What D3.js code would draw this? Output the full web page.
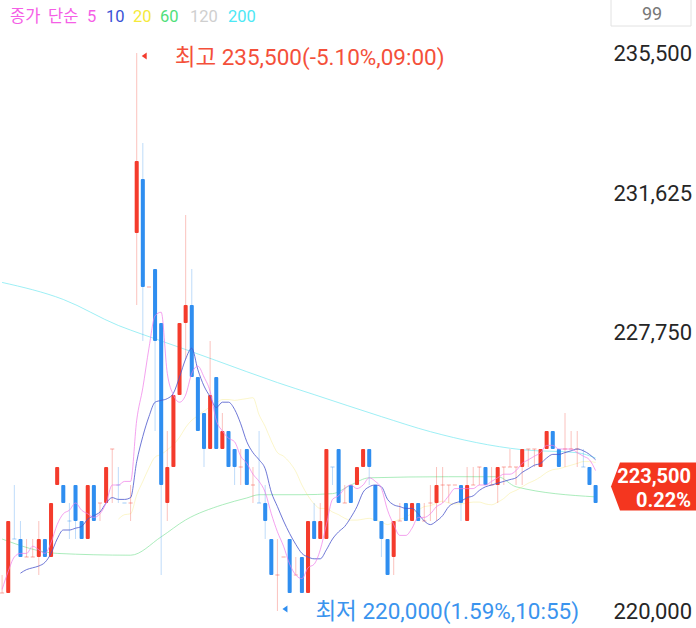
<!DOCTYPE html>
<html><head><meta charset="utf-8">
<script src="https://cdn.jsdelivr.net/npm/d3@7"></script>
<style>body{margin:0;background:#fff}svg{display:block}</style>
</head><body><svg id="c" width="696" height="628"></svg>
<script>
const opens = [220500,220500,222000,222000,221500,221500,221500,222000,221500,223500,223500,222500,223500,222500,222000,223500,223000,223000,224500,223500,223000,223000,230500,232000,229000,229500,228000,223000,224000,226000,228000,228500,226500,225500,224500,226500,224500,225000,224500,224000,224500,223500,223000,223000,222000,221000,221500,222000,221000,221500,220500,222500,222000,222000,224000,224500,223000,223500,223500,224000,224500,223500,222500,222000,221500,222500,223000,222500,223000,222500,223000,223000,223500,223500,223500,223500,222500,223500,224000,224000,223500,223500,224000,224000,224000,224000,224500,224500,224000,224500,225000,224500,224500,224500,224500,224000,224000,223500];
const highs = [221000,222500,223500,222500,222000,222000,222500,222000,223000,224000,223500,223000,223500,222500,223500,223500,223000,224000,224500,224000,223000,223500,235500,233000,229000,229500,228000,225000,226000,228000,231000,229500,226500,225500,227500,226500,225500,225000,224500,224500,224500,224000,225000,223500,222000,222000,221500,222000,221500,221500,222500,223000,223000,224500,224000,224500,223500,223500,224000,224500,224500,223500,222500,222000,222500,223000,223000,223000,223000,223000,223500,224000,224000,223500,223500,223500,224000,224000,224000,224000,224000,224000,224000,224500,224000,224500,224500,224500,224500,225000,225000,224500,225500,225000,225000,224500,224000,223500];
const lows = [220500,220500,222000,221500,221500,221500,221000,221500,221500,223500,223000,222000,222000,222000,222000,222500,222500,223000,223000,223000,223000,222500,228500,227500,229000,225000,221000,222500,224000,226000,227000,226500,225000,224000,224500,224500,224500,224000,223500,223500,223500,223000,223000,222000,221000,220000,221500,220500,221000,220500,220500,222000,222000,222000,223500,223000,223000,223000,223500,224000,223500,222500,221500,221000,221000,222500,222500,222500,222500,222500,222500,222500,223000,223000,223500,222500,222500,223500,223500,223500,223500,223000,223500,224000,223500,223500,224000,224000,224000,224500,224500,224000,224000,224500,224000,224000,223500,223000];
const closes = [220500,222500,222000,221500,221500,221500,222000,221500,223000,224000,223000,222500,222500,222000,223500,222500,223000,224000,224500,223500,223000,223000,232500,229000,229000,227500,223500,224000,226000,228000,228500,226500,225000,224500,226000,224500,225000,224000,224000,224000,223500,223500,223000,222500,221000,221000,221500,220500,221000,220500,222500,222000,222500,224500,224000,223000,223000,223000,224000,224500,224000,222500,222000,221000,222500,222500,222500,223000,222500,222500,223000,223500,223500,223500,223500,223000,223500,223500,224000,223500,223500,224000,224000,224000,224000,224500,224500,224500,224500,225000,224500,224000,224500,224500,224500,224000,223500,223000];

const ma5 = [220600,221100,221500,221600,221600,221800,221700,221600,221900,222400,222700,222800,223000,222800,222700,222600,222700,223000,223500,223500,223600,223600,225300,226200,227300,228200,228300,226600,226000,225800,226000,226600,226800,226500,226100,225300,225000,224800,224700,224300,224100,223800,223600,223300,222700,222200,221800,221300,221000,220900,221200,221300,221700,222400,223100,223200,223400,223500,223400,223500,223700,223600,223400,222800,222400,222100,222100,222300,222600,222600,222700,222900,223000,223200,223400,223400,223400,223400,223500,223500,223600,223700,223800,223800,223900,224100,224200,224300,224400,224600,224600,224500,224500,224500,224400,224300,224200,223900];
const ma10 = [null,null,null,221050,221150,221200,221250,221350,221600,222000,222250,222250,222300,222350,222550,222650,222750,223000,223150,223100,223100,223150,224150,224850,225400,225800,225850,225900,226050,226500,227000,227300,226700,226250,225950,225650,225800,225800,225600,225200,224700,224400,224200,223950,223300,222900,222500,222150,221850,221600,221500,221450,221450,221700,222000,222200,222350,222600,222900,223300,223450,223500,223450,223100,222950,222900,222850,222850,222700,222500,222400,222500,222650,222900,223000,223050,223150,223200,223350,223450,223500,223550,223600,223650,223700,223850,223950,224050,224100,224250,224350,224350,224400,224450,224500,224450,224350,224200];
const ma20 = [null,null,null,null,null,null,null,null,null,null,null,null,null,null,null,null,null,null,null,222550,222675,222700,223225,223600,223975,224275,224350,224475,224625,224825,225100,225300,225425,225550,225675,225775,225875,225875,225850,225875,225900,225925,225450,225125,224725,224400,224300,224125,223875,223500,223200,222975,222850,222850,222750,222675,222575,222525,222525,222550,222575,222525,222475,222400,222475,222550,222600,222725,222800,222900,222925,223000,223050,223000,222975,222975,223000,223025,223025,222975,222950,223025,223125,223275,223350,223450,223550,223625,223725,223850,223925,223950,224000,224050,224100,224150,224150,224125];
const ma60Idx = [0,9,21,26,30,36,40,42,49,54,57,60,73,81,84,97];
const ma60Val = [222000,221600,221550,222060,222530,222950,223140,223230,223230,223260,223500,223700,223730,223730,223450,223170];
const ma200Idx = [0,10,19,23,30,35,45,51,62,70,85,94,97];
const ma200Val = [229127,228654,227931,227681,227263,226957,226345,226011,225399,224981,224480,224397,224250];

const yTicks = [235500,231625,227750,220000];
const legendItems = [["종가","#f55ee6"],["단순","#f55ee6"],["5","#f55ee6"],["10","#3a52d6"],["20","#f5ea3a"],["60","#4fe07a"],["120","#cfcfcf"],["200","#4de8f5"]];
const lastPrice = 223500, lastChange = "0.22%";
const highLabel = "최고 235,500(-5.10%,09:00)";
const lowLabel = "최저 220,000(1.59%,10:55)";
const countLabel = "99";

const UP="#f43b2c", DOWN="#2f8ef0";
const svg = d3.select("#c");
const FONT = "Roboto, 'Noto Sans CJK KR', sans-serif";
const n = closes.length;
const x = d3.scaleBand().domain(d3.range(n)).range([-2, 599.7]).padding(0.34);
const cx = i => x(i) + x.bandwidth()/2;
const y = d3.scaleLinear().domain([220000,235500]).range([611,53]);

// MA lines
const line = d3.line().defined(d => d[1] != null).x(d => cx(d[0])).y(d => y(d[1])).curve(d3.curveMonotoneX);
const g = svg.append("g");
g.append("path").datum(ma200Idx.map((k,j)=>[k,ma200Val[j]])).attr("d",line).attr("fill","none").attr("stroke","#7ee9f2").attr("stroke-width",1).attr("opacity",0.75);
g.append("path").datum(ma60Idx.map((k,j)=>[k,ma60Val[j]])).attr("d",line).attr("fill","none").attr("stroke","#8fe6a6").attr("stroke-width",1).attr("opacity",0.75);
g.append("path").datum(ma20.map((v,i)=>[i,v])).attr("d",line).attr("fill","none").attr("stroke","#f3e66a").attr("stroke-width",1).attr("opacity",0.35);

// candles
const dir = i => closes[i] > opens[i] ? 1 : closes[i] < opens[i] ? -1 : (i>0 && closes[i] < closes[i-1] ? -1 : 1);
const col = i => dir(i) > 0 ? UP : DOWN;
const c = svg.append("g").selectAll("g").data(d3.range(n)).join("g");
c.append("line").attr("x1",cx).attr("x2",cx).attr("y1",i=>y(highs[i])).attr("y2",i=>y(lows[i]))
  .attr("stroke",col).attr("stroke-width",1).attr("opacity",0.3);
c.append("rect").attr("x",i=>x(i)).attr("width",x.bandwidth())
  .attr("y",i=>opens[i]===closes[i] ? y(opens[i])-0.5 : y(Math.max(opens[i],closes[i])))
  .attr("height",i=>opens[i]===closes[i] ? 1 : Math.abs(y(opens[i])-y(closes[i])))
  .attr("rx",i=>opens[i]===closes[i]?0:1)
  .attr("fill",col).attr("opacity",i=>opens[i]===closes[i]?0.45:1);

svg.append("path").datum(ma10.map((v,i)=>[i,v])).attr("d",line).attr("fill","none").attr("stroke","#4a55cc").attr("stroke-width",1).attr("opacity",0.8);
svg.append("path").datum(ma5.map((v,i)=>[i,v])).attr("d",line).attr("fill","none").attr("stroke","#f07ae8").attr("stroke-width",1).attr("opacity",0.7);

// y axis (right)
const ax = svg.append("g").attr("transform","translate(692,0)")
  .call(d3.axisLeft(y).tickValues(yTicks).tickSize(0).tickPadding(0).tickFormat(d3.format(",")));
ax.select(".domain").remove();
ax.selectAll("text").attr("font-family",FONT).attr("font-size",22).attr("fill","#262626").attr("dy","0.35em");

// legend
const legendX = [10,48,87,106,133,160,190,228];
svg.append("g").selectAll("text").data(legendItems).join("text")
  .attr("x",(d,k)=>legendX[k]).attr("y",22).attr("font-family",FONT).attr("font-size",16.5)
  .attr("fill",d=>d[1]).text(d=>d[0]);

// count box
svg.append("path").attr("d","M611,0 V26 H691 V0").attr("fill","none").attr("stroke","#e2e2e2");
svg.append("text").attr("x",652).attr("y",20).attr("text-anchor","middle").attr("font-family",FONT).attr("font-size",18).attr("fill","#777").text(countLabel);

// high / low markers
const hi = d3.maxIndex(highs), lo = d3.minIndex(lows);
svg.append("path").attr("d",`M${cx(hi)+5},${y(highs[hi])+3} l5,-3.5 v7 z`).attr("fill",UP);
svg.append("text").attr("x",cx(hi)+38).attr("y",y(highs[hi])+4).attr("dy","0.35em").attr("font-family",FONT).attr("font-size",22.5).attr("fill","#f4503a").text(highLabel);
svg.append("path").attr("d",`M${cx(lo)+5},${y(lows[lo])-2} l5,-3.5 v7 z`).attr("fill",DOWN);
svg.append("text").attr("x",cx(lo)+38).attr("y",y(lows[lo])).attr("dy","0.35em").attr("font-family",FONT).attr("font-size",22.5).attr("fill","#3a94ee").text(lowLabel);

// last price tag
const ly = y(lastPrice)+1.5;
svg.append("path").attr("d",`M611,${ly} L620,${ly-24} H696 V${ly+24} H620 Z`).attr("fill","#f4361f");
svg.append("text").attr("x",691).attr("y",ly-11).attr("dy","0.35em").attr("text-anchor","end").attr("font-family",FONT).attr("font-size",20).attr("font-weight","bold").attr("fill","#fff").text(d3.format(",")(lastPrice));
svg.append("text").attr("x",691).attr("y",ly+13).attr("dy","0.35em").attr("text-anchor","end").attr("font-family",FONT).attr("font-size",20).attr("font-weight","bold").attr("fill","#fff").text(lastChange);
</script></body></html>
